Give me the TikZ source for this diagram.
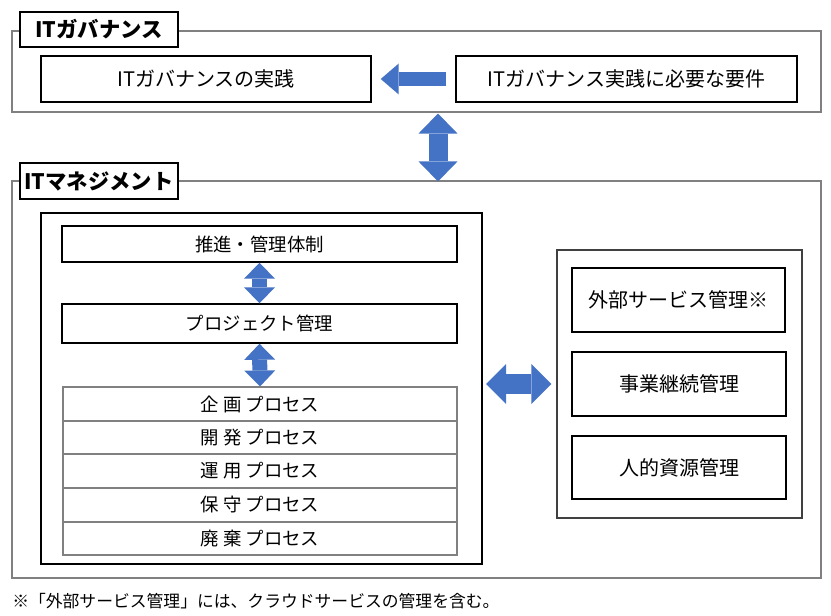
\documentclass[tikz,border=0pt]{standalone}
\usepackage{fontspec}
\setmainfont{Noto Sans CJK JP}
\usetikzlibrary{arrows.meta}
\definecolor{arrowblue}{HTML}{4472C4}
\definecolor{framegray}{HTML}{808080}
\definecolor{groupgray}{HTML}{404040}
\tikzset{
  wh/.style 2 args={minimum width=#1*0.75pt, minimum height=#2*0.75pt},
  ftwenty/.style={font=\fontsize{15pt}{18pt}\selectfont},
  feighteen/.style={font=\fontsize{13.8pt}{16pt}\selectfont},
  framebox/.style={draw=framegray, line width=0.8pt, inner sep=0pt},
  plainbox/.style={draw=black, line width=1.1pt, inner sep=0pt, fill=white},
  titlebox/.style={plainbox, font=\fontsize{16pt}{19pt}\selectfont\bfseries},
  rowbox/.style={draw=framegray, line width=0.8pt, inner sep=0pt, feighteen},
  bigbox/.style={draw=black, line width=1.5pt, inner sep=0pt},
  groupbox/.style={draw=groupgray, line width=1.1pt, inner sep=0pt},
}
\begin{document}
\begin{tikzpicture}[x=0.75pt,y=-0.75pt]
\useasboundingbox (0,0) rectangle (831,616);

% ---- IT governance
\node[framebox, wh={809}{81}] (govframe) at (416.5,71.5) {};
\node[titlebox, wh={158}{35}] (govtitle) at (99,29.5) {ITガバナンス};
\node[plainbox, ftwenty, wh={330}{46}] (practice) at (206,79) {ITガバナンスの実践};
\node[plainbox, ftwenty, wh={341}{46}] (require) at (626.5,79) {ITガバナンス実践に必要な要件};

% ---- IT management
\node[framebox, wh={809}{397}] (mgmtframe) at (416.5,379.5) {};
\node[titlebox, wh={158}{36}] (mgmttitle) at (99,181) {ITマネジメント};

\node[bigbox, wh={441}{351}] (leftbox) at (261.5,388.5) {};
\node[plainbox, feighteen, wh={395}{36}] (suishin) at (259.5,244) {推進・管理体制};
\node[plainbox, feighteen, wh={395}{39}] (project) at (259.5,323.5) {プロジェクト管理};

\node[rowbox, wh={394}{34}] (p1) at (260,404) {企 画 プロセス};
\node[rowbox, wh={394}{33}] (p2) at (260,437.5) {開 発 プロセス};
\node[rowbox, wh={394}{34}] (p3) at (260,471) {運 用 プロセス};
\node[rowbox, wh={394}{34}] (p4) at (260,505) {保 守 プロセス};
\node[rowbox, wh={394}{33}] (p5) at (260,538.5) {廃 棄 プロセス};

\node[groupbox, wh={245}{268}] (rgroup) at (679.5,384) {};
\node[plainbox, ftwenty, wh={213}{64}] (gaibu) at (678.5,300) {外部サービス管理※};
\node[plainbox, ftwenty, wh={214}{64}] (jigyou) at (679,384) {事業継続管理};
\node[plainbox, ftwenty, wh={214}{63}] (jinteki) at (679,467.5) {人的資源管理};

% ---- footnote
\node[anchor=west, inner sep=0pt, font=\fontsize{12.6pt}{15pt}\selectfont] (note) at (12,601) {※「外部サービス管理」には、クラウドサービスの管理を含む。};

% ---- block arrows
\coordinate (vx) at (438,0);
\draw[arrowblue, line width=10.5pt,
      -{Triangle[length=13.5pt, width=23.25pt, line width=0pt]},
      shorten <=6.75pt, shorten >=6.75pt]
  (require.west) -- (practice.east);

\draw[arrowblue, line width=14.25pt,
      {Triangle[length=15pt, width=29.25pt, line width=0pt]}-{Triangle[length=15pt, width=29.25pt, line width=0pt]},
      shorten <=0.75pt, shorten >=-0.75pt]
  (govframe.south -| vx) -- (mgmtframe.north -| vx);

\draw[arrowblue, line width=11.25pt,
      {Triangle[length=12pt, width=23.25pt, line width=0pt]}-{Triangle[length=12pt, width=23.25pt, line width=0pt]}]
  (suishin.south) -- (project.north);

\draw[arrowblue, line width=11.25pt,
      {Triangle[length=12pt, width=23.25pt, line width=0pt]}-{Triangle[length=12pt, width=23.25pt, line width=0pt]}]
  (project.south) -- (p1.north);

\draw[arrowblue, line width=15pt,
      {Triangle[length=15pt, width=30pt, line width=0pt]}-{Triangle[length=15pt, width=30pt, line width=0pt]},
      shorten <=2.25pt, shorten >=3.75pt]
  (leftbox.east |- rgroup.west) -- (rgroup.west);
\end{tikzpicture}
\end{document}
